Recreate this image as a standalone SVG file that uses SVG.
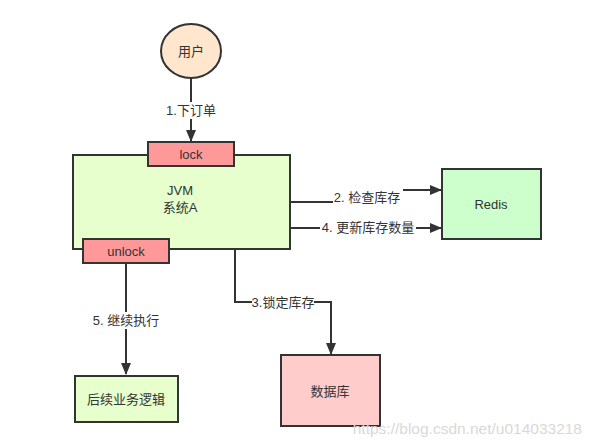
<svg xmlns="http://www.w3.org/2000/svg" width="591" height="447" viewBox="0 0 591 447">
<defs>
<marker id="arr" markerWidth="12" markerHeight="10" refX="11" refY="5" orient="auto" markerUnits="userSpaceOnUse">
<path d="M0,0 L12,5 L0,10 Z" fill="#333"/>
</marker>
<style>
.box{stroke:#333;stroke-width:2}
.t{font-family:"Liberation Sans","Noto Sans CJK SC",sans-serif;font-size:13px;fill:#333;text-anchor:middle;dominant-baseline:central}
.ln{fill:none;stroke:#333;stroke-width:2}
.bg{fill:#fff}
</style>
</defs>
<rect width="591" height="447" fill="#fff"/>
<g id="connectors">
<path class="ln" d="M191,78 L191,141" marker-end="url(#arr)"/>
<rect class="bg" x="164" y="102" width="54" height="17"/>
<text class="t" x="191" y="110">1.下订单</text>
<path class="ln" d="M291,202 L362,202 L362,190 L441,190" marker-end="url(#arr)"/>
<rect class="bg" x="333" y="188" width="70" height="17"/>
<text class="t" x="367" y="197">2. 检查库存</text>
<path class="ln" d="M291,228 L441,228" marker-end="url(#arr)"/>
<rect class="bg" x="320" y="219" width="96" height="17"/>
<text class="t" x="368" y="227">4. 更新库存数量</text>
<path class="ln" d="M235,250 L235,302 L331,302 L331,354" marker-end="url(#arr)"/>
<rect class="bg" x="252" y="294" width="62" height="17"/>
<text class="t" x="283" y="302">3.锁定库存</text>
<path class="ln" d="M126,264 L126,374" marker-end="url(#arr)"/>
<rect class="bg" x="92" y="312" width="70" height="17"/>
<text class="t" x="126" y="320">5. 继续执行</text>
</g>
<g id="user">
<ellipse class="box" cx="191" cy="51" rx="30" ry="27" fill="#FFE6CC"/>
<text class="t" x="191" y="51">用户</text>
</g>
<g id="jvm">
<rect class="box" x="73" y="155" width="217" height="94" fill="#E6FFCC"/>
<text class="t" x="180" y="190">JVM</text>
<text class="t" x="180" y="207">系统A</text>
</g>
<g id="lock">
<rect class="box" x="148" y="142" width="86" height="24" fill="#FF9999"/>
<text class="t" x="191" y="154">lock</text>
</g>
<g id="unlock">
<rect class="box" x="83" y="239" width="86" height="24" fill="#FF9999"/>
<text class="t" x="126" y="251">unlock</text>
</g>
<g id="redis">
<rect class="box" x="442" y="169" width="99" height="70" fill="#CCFFCC"/>
<text class="t" x="491" y="204">Redis</text>
</g>
<g id="logic">
<rect class="box" x="75" y="376" width="103" height="46" fill="#E6FFCC"/>
<text class="t" x="126" y="399">后续业务逻辑</text>
</g>
<g id="db">
<rect class="box" x="281" y="355" width="99" height="71" fill="#FFCCCC"/>
<text class="t" x="330" y="391">数据库</text>
</g>
<text x="582" y="434" style="font-family:'Liberation Sans',sans-serif;font-size:15.5px;fill:#d9d9d9;text-anchor:end">https://blog.csdn.net/u014033218</text>
</svg>
